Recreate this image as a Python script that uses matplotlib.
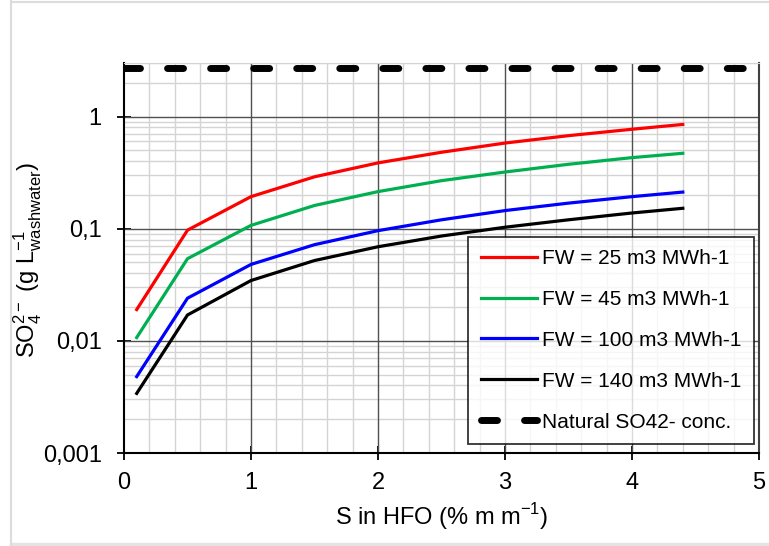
import matplotlib
matplotlib.use("Agg")
import matplotlib.pyplot as plt
from matplotlib.lines import Line2D
from matplotlib.patches import Rectangle
from matplotlib.ticker import FixedLocator, FuncFormatter, MultipleLocator, LogLocator, NullFormatter

plt.rcParams["font.family"] = ["Liberation Sans", "DejaVu Sans"]

# S content in HFO (% m/m)
s_hfo = [0.1, 0.5, 1.0, 1.5, 2.0, 2.5, 3.0, 3.5, 4.0, 4.4]
# SO4 2- concentration in washwater (g/L)
fw25 = [0.019, 0.097, 0.193, 0.29, 0.386, 0.48, 0.58, 0.675, 0.77, 0.85]
fw45 = [0.0107, 0.054, 0.107, 0.161, 0.214, 0.268, 0.32, 0.375, 0.43, 0.47]
fw100 = [0.0048, 0.024, 0.048, 0.072, 0.096, 0.12, 0.145, 0.169, 0.193, 0.212]
fw140 = [0.0034, 0.017, 0.0345, 0.052, 0.069, 0.086, 0.103, 0.12, 0.138, 0.152]
natural_x = [0, 5]
natural_so4 = [2.7, 2.7]

labels = ["FW = 25 m3 MWh-1", "FW = 45 m3 MWh-1",
          "FW = 100 m3 MWh-1", "FW = 140 m3 MWh-1"]
colors = ["#ff0000", "#00b050", "#0000ff", "#000000"]
x_major = [0, 1, 2, 3, 4, 5]
y_major = [0.001, 0.01, 0.1, 1]

W, H = 769, 546
fig = plt.figure(figsize=(W / 100, H / 100), dpi=100)
ax = fig.add_axes([124 / W, 1 - 453 / H, (759 - 124) / W, (453 - 63) / H])

for ys, lab, c in zip([fw25, fw45, fw100, fw140], labels, colors):
    ax.plot(s_hfo, ys, color=c, lw=2.3, label=lab, zorder=3)
ax.plot(natural_x, natural_so4, color="black", lw=5, dashes=(2.3, 3.9),
        dash_capstyle="round", label="Natural SO42- conc.", zorder=3)

ax.set_yscale("log")
ax.set_xlim(0, 5)
ax.set_ylim(0.001, 3.0)

ax.xaxis.set_major_locator(FixedLocator(x_major))
ax.xaxis.set_minor_locator(MultipleLocator(0.2))
ax.yaxis.set_major_locator(FixedLocator(y_major))
ax.yaxis.set_minor_locator(LogLocator(base=10, subs=range(2, 10)))
ax.yaxis.set_minor_formatter(NullFormatter())
ax.yaxis.set_major_formatter(FuncFormatter(
    lambda v, p: ("%g" % v).replace(".", ",")))

# light minor grid, darker major grid drawn on top of it
ax.grid(which="minor", color="#d4d4d4", lw=1.0, zorder=0)
ax.set_axisbelow(True)
for xv in x_major[1:-1]:
    ax.axvline(xv, color="#505050", lw=1.0, zorder=1)
for yv in y_major[1:]:
    ax.axhline(yv, color="#505050", lw=1.0, zorder=1)

ax.tick_params(which="major", direction="inout", length=10, width=1.3,
               labelsize=17)
ax.tick_params(which="minor", length=0)
ax.tick_params(axis="y", pad=11)
ax.tick_params(axis="x", pad=9)
for side in ("left", "bottom"):
    ax.spines[side].set_color("black")
    ax.spines[side].set_linewidth(1.5)
ax.spines["right"].set_color("#404040")
ax.spines["right"].set_linewidth(1.5)
ax.spines["top"].set_color("#d4d4d4")

ax.set_xlabel("S in HFO (% m m$^{\\mathregular{-1}}$)", fontsize=17, labelpad=5)
ax.set_ylabel("SO$_{\\mathregular{4}}^{\\mathregular{2-}}$ (g L$^{\\mathregular{-1}}_{\\mathregular{washwater}}$)",
              fontsize=17)
ax.yaxis.set_label_coords(-0.126, 0.495)

leg = ax.legend(loc="lower right", bbox_to_anchor=(0.9925, 0.023),
                borderaxespad=0, fontsize=15, frameon=True, fancybox=False,
                handlelength=2.7, handletextpad=0.25, labelspacing=1.05,
                borderpad=0.6)
leg.get_frame().set_edgecolor("black")
leg.get_frame().set_linewidth(1.3)

# light page frame around the picture
fig.add_artist(Line2D([10.5 / W, 10.5 / W], [0, 1], color="#dcdcdc", lw=1.5,
                      transform=fig.transFigure))
fig.add_artist(Line2D([10.5 / W, 1], [1 - 1.5 / H, 1 - 1.5 / H], color="#dcdcdc",
                      lw=1.5, transform=fig.transFigure))
fig.add_artist(Rectangle((10 / W, 0), 1, 3 / H, color="#e4e4e4",
                         transform=fig.transFigure))

fig.savefig("out.png", dpi=100)
